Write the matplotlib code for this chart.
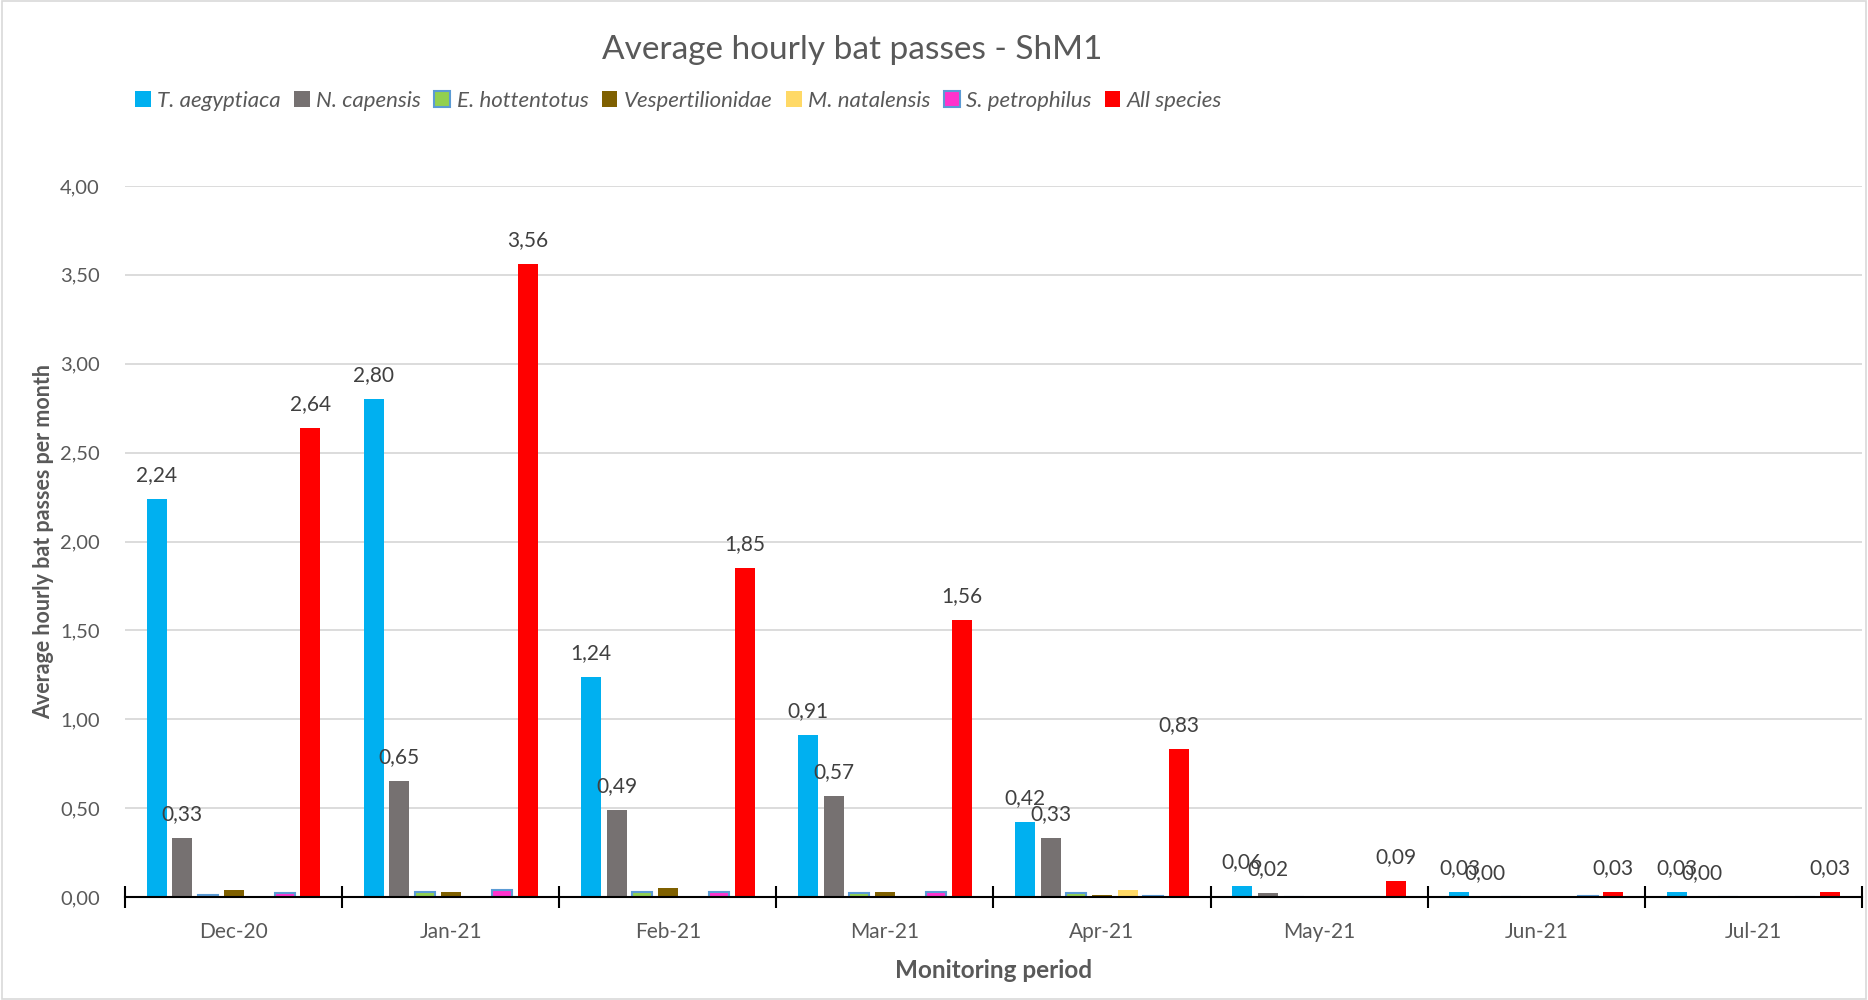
import matplotlib.pyplot as plt
import numpy as np
from matplotlib.patches import Rectangle

plt.rcParams['font.family'] = ['Lato', 'DejaVu Sans']

months = ['Dec-20', 'Jan-21', 'Feb-21', 'Mar-21', 'Apr-21', 'May-21', 'Jun-21', 'Jul-21']

t_aegyptiaca = [2.24, 2.80, 1.24, 0.91, 0.42, 0.06, 0.03, 0.03]
n_capensis = [0.33, 0.65, 0.49, 0.57, 0.33, 0.02, 0.00, 0.00]
e_hottentotus = [0.01, 0.03, 0.03, 0.02, 0.02, 0.00, 0.00, 0.00]
vespertilionidae = [0.04, 0.03, 0.05, 0.03, 0.01, 0.002, 0.00, 0.00]
m_natalensis = [0.00, 0.00, 0.00, 0.005, 0.04, 0.00, 0.00, 0.00]
s_petrophilus = [0.02, 0.04, 0.03, 0.03, 0.005, 0.00, 0.003, 0.00]
all_species = [2.64, 3.56, 1.85, 1.56, 0.83, 0.09, 0.03, 0.03]

series = [
    ('T. aegyptiaca', t_aegyptiaca, '#00B0F0', None, True),
    ('N. capensis', n_capensis, '#767171', None, True),
    ('E. hottentotus', e_hottentotus, '#92D050', '#5B9BD5', False),
    ('Vespertilionidae', vespertilionidae, '#7F6000', None, False),
    ('M. natalensis', m_natalensis, '#FFD966', None, False),
    ('S. petrophilus', s_petrophilus, '#FF33CC', '#5B9BD5', False),
    ('All species', all_species, '#FF0000', None, True),
]

text_col = '#595959'

fig = plt.figure(figsize=(18.68, 10), dpi=100)
fig.patches.append(Rectangle((0.001, 0.001), 0.998, 0.998, transform=fig.transFigure,
                             fill=False, edgecolor='#D9D9D9', linewidth=1.2))
ax = fig.add_axes([0.0669, 0.103, 0.9299, 0.711])

x = np.arange(len(months))
slot = 0.118
width = 0.092
handles = []
for i, (name, vals, col, edge, lab) in enumerate(series):
    pos = x + (i - 3) * slot
    if edge:
        b = ax.bar(pos, vals, width, color=col, edgecolor=edge, linewidth=1.5, label=name, zorder=3)
    else:
        b = ax.bar(pos, vals, width, color=col, label=name, zorder=3)
    handles.append(b)
    if lab:
        for p, v in zip(pos, vals):
            ax.annotate(f'{v:.2f}'.replace('.', ','), (p, v), xytext=(0, 10),
                        textcoords='offset points', ha='center', va='bottom',
                        fontsize=15, color='#404040')

ax.set_xlim(-0.5, len(months) - 0.5)
ax.set_ylim(0, 4)
ax.set_yticks(np.arange(0, 4.01, 0.5))
ax.set_yticklabels([f'{t:.2f}'.replace('.', ',') for t in np.arange(0, 4.01, 0.5)])
ax.yaxis.grid(True, color='#D9D9D9', linewidth=1.3, zorder=0)
ax.set_axisbelow(True)

ax.set_xticks(x)
ax.set_xticklabels(months)
ax.set_xticks(np.arange(-0.5, len(months)), minor=True)
ax.tick_params(axis='x', which='major', length=0, pad=18, labelsize=15, labelcolor=text_col)
ax.tick_params(axis='x', which='minor', direction='inout', length=16, width=1.5, color='black')
ax.tick_params(axis='y', length=0, pad=18, labelsize=14.5, labelcolor=text_col)

for s in ['top', 'right', 'left']:
    ax.spines[s].set_visible(False)
ax.spines['bottom'].set_color('black')
ax.spines['bottom'].set_linewidth(1.5)
ax.spines['bottom'].set_zorder(4)

ax.set_xlabel('Monitoring period', fontsize=17.5, fontweight='bold', color=text_col, labelpad=12)
ax.set_ylabel('Average hourly bat passes per month', fontsize=15.5, fontweight='bold',
              color=text_col)
ax.yaxis.set_label_coords(-0.0405, 0.5)

fig.text(0.456, 0.95, 'Average hourly bat passes - ShM1', fontsize=24, color=text_col,
         ha='center', va='center')

leg = fig.legend(handles=handles, loc='center left', bbox_to_anchor=(0.0675, 0.899), ncol=7,
                 frameon=False, fontsize=16, handlelength=0.7, handleheight=0.7,
                 handletextpad=0.3, columnspacing=0.6, borderaxespad=0)
for t in leg.get_texts():
    t.set_style('italic')
    t.set_color(text_col)

plt.savefig('out.png', dpi=100)
